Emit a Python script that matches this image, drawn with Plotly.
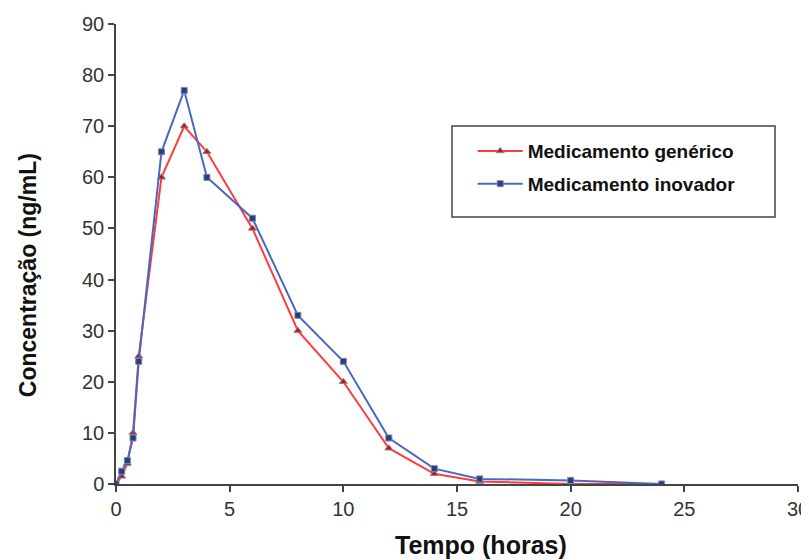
import plotly.graph_objects as go

tempo = [0, 0.25, 0.5, 0.75, 1, 2, 3, 4, 6, 8, 10, 12, 14, 16, 20, 24]
generico = [0, 1.5, 4, 10, 25, 60, 70, 65, 50, 30, 20, 7, 2, 0.5, 0, 0]
inovador = [0, 2.5, 4.6, 9, 24, 65, 77, 60, 52, 33, 24, 9, 3, 1, 0.7, 0]

x_ticks = [0, 5, 10, 15, 20, 25, 30]
y_ticks = [0, 10, 20, 30, 40, 50, 60, 70, 80, 90]

font = "Liberation Sans, Arial, sans-serif"

fig = go.Figure()
fig.add_trace(go.Scatter(
    x=tempo, y=generico, mode="lines+markers", name="Medicamento genérico",
    legendgroup="g",
    line=dict(color="#ff3c3c", width=2),
    marker=dict(symbol="triangle-up", size=7, color="#c0141c",
                line=dict(color="#888888", width=1)),
))
fig.add_trace(go.Scatter(
    x=tempo, y=inovador, mode="lines+markers", name="Medicamento inovador",
    legendgroup="i",
    line=dict(color="#4a68c0", width=2),
    marker=dict(symbol="square", size=6, color="#1f3c96",
                line=dict(color="#888888", width=1)),
))

axis_common = dict(
    showgrid=False, zeroline=False, showline=True, linecolor="#444444", linewidth=1.5,
    ticks="outside", ticklen=6, tickcolor="#444444", tickwidth=1.5,
    tickfont=dict(family=font, size=20, color="#333333"),
    automargin=False, ticklabeloverflow="allow",
)

fig.update_layout(
    width=801, height=552,
    margin=dict(l=108, r=11, t=16, b=76),
    paper_bgcolor="white", plot_bgcolor="white",
    font=dict(family=font),
    showlegend=True,
    legend=dict(
        x=0.523, y=0.765, xanchor="left", yanchor="top",
        borderwidth=0, bgcolor="rgba(0,0,0,0)",
        font=dict(family=font, size=19, color="#111111", weight="bold"),
        tracegroupgap=5, itemwidth=45,
    ),
    shapes=[dict(type="rect", xref="paper", yref="paper",
                 x0=0.4927, x1=0.9663, y0=0.5804, y1=0.7783,
                 line=dict(color="#444444", width=1.5), fillcolor="rgba(0,0,0,0)", layer="above")],
    annotations=[
        dict(text="<b>Tempo (horas)</b>", xref="paper", yref="paper", x=0.535, y=-0.1326,
             xanchor="center", yanchor="middle", showarrow=False,
             font=dict(family=font, size=25, color="#111111")),
        dict(text="<b>Concentração (ng/mL)</b>", xref="paper", yref="paper", x=-0.129, y=0.454,
             xanchor="center", yanchor="middle", showarrow=False, textangle=-90,
             font=dict(family=font, size=23, color="#111111")),
    ],
    xaxis=dict(range=[0, 30], tickvals=x_ticks, **axis_common),
    yaxis=dict(range=[0, 90], tickvals=y_ticks, **axis_common),
)

fig.write_html("out.html")
